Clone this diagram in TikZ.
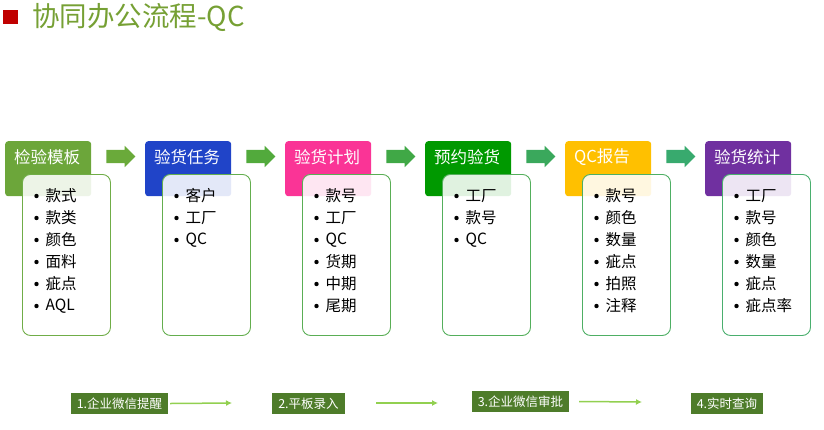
\documentclass[tikz,border=0pt]{standalone}
\usepackage{fontspec}
\setmainfont{Noto Sans CJK SC}
\usetikzlibrary{shapes.arrows,arrows.meta}

\definecolor{titlered}{RGB}{192,0,0}
\definecolor{titlegreen}{RGB}{118,160,52}
\definecolor{hA}{RGB}{108,166,58}
\definecolor{hB}{RGB}{32,68,200}
\definecolor{hC}{RGB}{250,52,150}
\definecolor{hD}{RGB}{0,153,0}
\definecolor{hE}{RGB}{255,192,0}
\definecolor{hF}{RGB}{112,48,160}
\definecolor{bA}{RGB}{112,173,71}
\definecolor{bB}{RGB}{100,174,78}
\definecolor{bC}{RGB}{90,174,85}
\definecolor{bD}{RGB}{84,175,92}
\definecolor{bE}{RGB}{78,175,100}
\definecolor{bF}{RGB}{74,175,110}
\definecolor{aA}{RGB}{106,170,58}
\definecolor{aB}{RGB}{82,170,60}
\definecolor{aC}{RGB}{64,168,70}
\definecolor{aD}{RGB}{58,168,92}
\definecolor{aE}{RGB}{56,170,110}
\definecolor{labgreen}{RGB}{78,124,42}
\definecolor{flowgreen}{RGB}{146,208,80}

\begin{document}
\begin{tikzpicture}[x=1pt, y=-1pt,
    hdr/.style={rectangle, rounded corners=3pt, anchor=north west,
      minimum width=86pt, minimum height=55pt, inner sep=0pt},
    hdrtext/.style={anchor=west, text=white, inner sep=0pt,
      font=\fontsize{16.5}{16.5}\selectfont},
    listbox/.style={rectangle, rounded corners=8pt, anchor=north west,
      minimum width=88pt, minimum height=161pt, line width=0.9pt,
      fill=white, fill opacity=0.88},
    item/.style={anchor=west, inner sep=0pt, font=\fontsize{15.5}{15.5}\selectfont},
    blockarrow/.style={single arrow, draw=none, inner xsep=0pt, inner ysep=6.5pt,
      single arrow head extend=4pt, minimum height=29pt,
      text height=0pt, text depth=0pt},
    lab/.style={fill=labgreen, text=white, inner xsep=5pt, minimum height=21pt,
      font=\fontsize{12.5}{12.5}\selectfont},
    flow/.style={flowgreen, line width=1.5pt, -{Latex[length=6pt,width=6pt]}}]
  \useasboundingbox (0,0) rectangle (824,429);

  % =======================================================
  % PARAMETERS
  % =======================================================
  \def\Step{140}   % horizontal distance between columns
  \def\Row{22}     % distance between list lines

  % =======================================================
  % 1. Title
  % =======================================================
  \fill[titlered] (3,10) rectangle (18,24);
  \node[anchor=west, inner sep=0pt, text=titlegreen,
    font=\fontsize{27.5}{27.5}\selectfont] (title) at (32,17) {协同办公流程-QC};

  % =======================================================
  % 2. Columns: header, list box, list items
  % =======================================================
  \foreach \i/\name/\col/\bcol/\items in {
      0/检验模板/hA/bA/{款式,款类,颜色,面料,疵点,AQL},
      1/验货任务/hB/bB/{客户,工厂,QC},
      2/验货计划/hC/bC/{款号,工厂,QC,货期,中期,尾期},
      3/预约验货/hD/bD/{工厂,款号,QC},
      4/QC报告/hE/bE/{款号,颜色,数量,疵点,拍照,注释},
      5/验货统计/hF/bF/{工厂,款号,颜色,数量,疵点,疵点率}} {
    \pgfmathsetmacro{\xo}{\Step*\i}
    \node[hdr, fill=\col] (h\i) at (5+\xo,141) {};
    \node[hdrtext] (ht\i) at (14+\xo,157) {\name};
    \node[listbox, draw=\bcol] (b\i) at (22+\xo,174) {};
    \foreach \t [count=\j] in \items {
      \fill (36.5+\xo,174+\Row*\j) circle (2.2pt);
      \node[item] (b\i-\j) at (45.5+\xo,174+\Row*\j) {\t};
    }
  }

  % =======================================================
  % 3. Block arrows between the headers
  % =======================================================
  \foreach \i/\col in {0/aA, 1/aB, 2/aC, 3/aD, 4/aE} {
    \node[blockarrow, fill=\col] (a\i) at (117.5+\Step*\i,156.5) {};
  }

  % =======================================================
  % 4. Steps at the bottom
  % =======================================================
  \node[lab, minimum width=97pt] (l1) at (119.5,403.5) {1.企业微信提醒};
  \node[lab, minimum width=73pt] (l2) at (308.5,403.5) {2.平板录入};
  \node[lab, minimum width=97pt] (l3) at (520.5,401.5) {3.企业微信审批};
  \node[lab, minimum width=72pt] (l4) at (727,403.5) {4.实时查询};

  \coordinate (e1) at (232,403);
  \coordinate (s2) at (376,403);
  \coordinate (e2) at (438,403);
  \coordinate (e3) at (642,402);
  \draw[flow] ([xshift=2pt]l1.east) -- (e1);
  \draw[flow] (s2) -- (e2);
  \draw[flow] ([xshift=10pt]l3.east) -- (e3);

\end{tikzpicture}
\end{document}
